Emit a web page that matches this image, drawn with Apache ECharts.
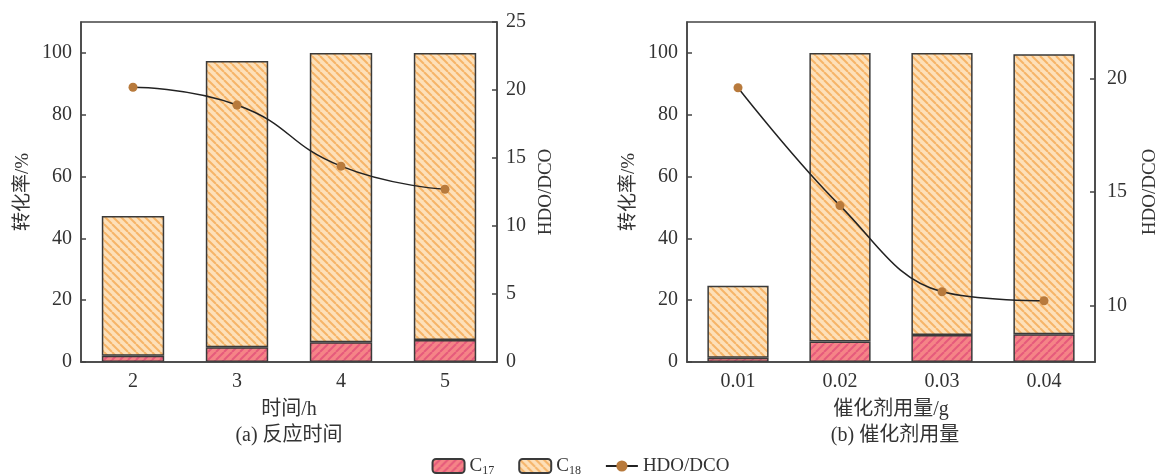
<!DOCTYPE html>
<html>
<head>
<meta charset="utf-8">
<script src="https://cdn.jsdelivr.net/npm/echarts@6/dist/echarts.min.js"></script>
<style>
  html, body { margin: 0; background: #fff; }
  #chart { width: 1161px; height: 475px; }
</style>
</head>
<body>
<div id="chart"></div>
<script>
// (a) reaction time
const timeCats = ['2', '3', '4', '5']
const timeC17 = [2.0, 4.8, 6.4, 7.1]
const timeC18 = [45.2, 92.6, 93.6, 92.9]
const timeRatio = [20.2, 18.9, 14.4, 12.7]
// (b) catalyst dosage
const doseCats = ['0.01', '0.02', '0.03', '0.04']
const doseC17 = [1.4, 6.6, 8.7, 9.0]
const doseC18 = [23.3, 93.4, 91.3, 90.6]
const doseRatio = [19.6, 14.4, 10.6, 10.2]
// tick labels
const convTicks = [0, 20, 40, 60, 80, 100]
const timeRatioTicks = [0, 5, 10, 15, 20, 25]
const doseRatioTicks = [10, 15, 20]

const FONT = '"Liberation Serif", "Noto Sans CJK SC", serif'
const TXT = '#333'

// diagonal hatch tile, dir 1 = '/', -1 = '\'
function hatch (bg, fg, dir) {
  const p = 8
  const c = document.createElement('canvas')
  c.width = p
  c.height = p
  const ctx = c.getContext('2d')
  ctx.fillStyle = bg
  ctx.fillRect(0, 0, p, p)
  ctx.strokeStyle = fg
  ctx.lineWidth = 2
  for (let k = -1; k <= 1; k++) {
    ctx.beginPath()
    if (dir > 0) {
      ctx.moveTo(k * p, p)
      ctx.lineTo(k * p + p, 0)
    } else {
      ctx.moveTo(k * p, 0)
      ctx.lineTo(k * p + p, p)
    }
    ctx.stroke()
  }
  return { image: c, repeat: 'repeat' }
}

const c17Fill = hatch('#f58487', '#e65a7c', 1)
const c18Fill = hatch('#fde0b9', '#f6b468', -1)

function xAxisOf (idx, cats, name) {
  return {
    type: 'category',
    gridIndex: idx,
    data: cats,
    z: 10,
    name: name,
    nameLocation: 'middle',
    nameGap: 38,
    nameTextStyle: { fontFamily: FONT, fontSize: 20, color: TXT },
    axisLine: { lineStyle: { color: '#444', width: 1.5 } },
    axisTick: { inside: true, alignWithLabel: true, length: 5, lineStyle: { color: '#444', width: 1.5 } },
    axisLabel: { fontFamily: FONT, fontSize: 20, color: TXT, margin: 10 }
  }
}

function convAxis (idx) {
  return {
    type: 'value',
    gridIndex: idx,
    min: 0,
    max: 110,
    name: '转化率/%',
    nameLocation: 'middle',
    nameRotate: 90,
    nameGap: 48,
    nameTextStyle: { fontFamily: FONT, fontSize: 19, color: TXT },
    splitLine: { show: false },
    axisLine: { show: true, lineStyle: { color: '#444', width: 1.5 } },
    axisTick: { show: true, inside: true, length: 5, customValues: convTicks, lineStyle: { color: '#444', width: 1.5 } },
    axisLabel: { fontFamily: FONT, fontSize: 20, color: TXT, margin: 9, customValues: convTicks }
  }
}

function ratioAxis (idx, min, max, ticks, gap, margin) {
  return {
    type: 'value',
    gridIndex: idx,
    position: 'right',
    min: min,
    max: max,
    name: 'HDO/DCO',
    nameLocation: 'middle',
    nameRotate: 90,
    nameGap: gap,
    nameTextStyle: { fontFamily: FONT, fontSize: 19, color: TXT },
    splitLine: { show: false },
    axisLine: { show: true, lineStyle: { color: '#444', width: 1.5 } },
    axisTick: { show: true, inside: true, length: 5, customValues: ticks, lineStyle: { color: '#444', width: 1.5 } },
    axisLabel: { fontFamily: FONT, fontSize: 20, color: TXT, margin: margin, customValues: ticks }
  }
}

function barsOf (idx, c17, c18, ratio, smooth) {
  const border = { borderColor: '#3a3a3a', borderWidth: 1.5 }
  return [
    {
      name: 'C17',
      type: 'bar',
      stack: 'conv' + idx,
      xAxisIndex: idx,
      yAxisIndex: idx * 2,
      barWidth: '60%',
      itemStyle: Object.assign({ color: c17Fill }, border),
      data: c17
    },
    {
      name: 'C18',
      type: 'bar',
      stack: 'conv' + idx,
      xAxisIndex: idx,
      yAxisIndex: idx * 2,
      barWidth: '60%',
      itemStyle: Object.assign({ color: c18Fill }, border),
      data: c18
    },
    {
      name: 'HDO/DCO',
      type: 'line',
      xAxisIndex: idx,
      yAxisIndex: idx * 2 + 1,
      smooth: smooth,
      symbol: 'circle',
      symbolSize: 9,
      z: 5,
      itemStyle: { color: '#b87a3c' },
      lineStyle: { color: '#222', width: 1.5 },
      data: ratio
    }
  ]
}

const chart = echarts.init(document.getElementById('chart'))
chart.setOption({
  animation: false,
  backgroundColor: '#fff',
  grid: [
    { left: 81, top: 22, width: 416, height: 340, show: true, borderColor: '#444', borderWidth: 1.5 },
    { left: 687, top: 22, width: 415, height: 340, show: true, borderColor: '#444', borderWidth: 1.5 }
  ],
  xAxis: [
    xAxisOf(0, timeCats, '时间/h'),
    xAxisOf(1, doseCats, '催化剂用量/g')
  ],
  yAxis: [
    convAxis(0),
    ratioAxis(0, 0, 25, timeRatioTicks, 40, 9),
    convAxis(1),
    ratioAxis(1, 7.5, 22.5, doseRatioTicks, 46, 12)
  ],
  legend: {
    bottom: -7,
    left: 'center',
    itemWidth: 32,
    itemHeight: 14,
    itemGap: 24,
    data: ['C17', 'C18', 'HDO/DCO'],
    formatter: function (name) {
      if (name === 'HDO/DCO') return '{m|HDO/DCO}'
      return '{m|C}{s|' + name.slice(1) + '}'
    },
    textStyle: {
      rich: {
        m: { fontFamily: FONT, fontSize: 19, color: TXT },
        s: { fontFamily: FONT, fontSize: 12, color: TXT, verticalAlign: 'bottom', padding: [10, 0, 0, 0] }
      }
    }
  },
  graphic: [
    { type: 'text', x: 289, y: 436, style: { text: '(a) 反应时间', align: 'center', verticalAlign: 'middle', fill: TXT, font: '20px ' + FONT } },
    { type: 'text', x: 895, y: 436, style: { text: '(b) 催化剂用量', align: 'center', verticalAlign: 'middle', fill: TXT, font: '20px ' + FONT } }
  ],
  series: [].concat(
    barsOf(0, timeC17, timeC18, timeRatio, true),
    barsOf(1, doseC17, doseC18, doseRatio, 0.4)
  )
})
</script>
</body>
</html>
